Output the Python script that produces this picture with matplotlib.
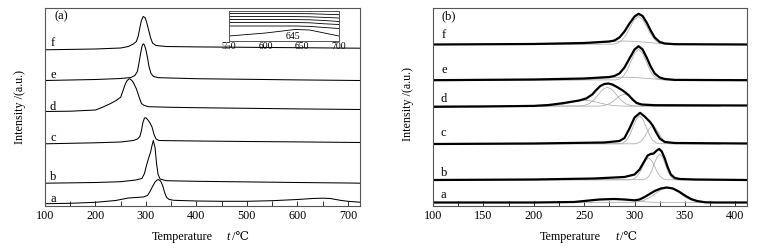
import matplotlib
matplotlib.use("Agg")
import matplotlib.pyplot as plt
from matplotlib.ticker import MultipleLocator

plt.rcParams['font.family'] = ['Liberation Serif', 'DejaVu Serif']

# ---------------- Panel (a) data: temperature (C) and stacked intensity ----------------
a_T = [100, 150, 200, 240, 255, 265, 280, 295, 303, 308, 313, 318, 322, 325, 329, 333, 337, 341, 346, 355,
       400, 450, 500, 550, 600, 630, 650, 665, 685, 700, 724]
a_I = [1.8, 2.2, 3.2, 5.0, 6.5, 7.5, 8.0, 8.5, 10, 14, 19, 23.5, 25.5, 25.8, 24.5, 20, 13, 8, 6, 5.2,
       4.5, 4.2, 4.2, 4.8, 6.0, 7.0, 7.3, 7.0, 5.2, 4.2, 3.3]
b_T = [100, 200, 250, 280, 292, 297, 301, 305, 309, 312, 314.5, 318, 321, 324, 328, 340, 400, 500, 600, 700, 724]
b_I = [22.3, 23, 23.8, 25.5, 27, 32, 40, 47, 53, 60, 65, 58, 42, 31, 26.5, 24.8, 24.2, 23.6, 23, 22.5, 22.3]
c_T = [100, 200, 250, 275, 283, 288, 291, 294, 297, 300, 304, 308, 312, 316, 320, 326, 350, 400, 500, 600, 724]
c_I = [61.7, 62.7, 63.5, 65, 66.5, 69, 75, 83, 87.5, 87.7, 85.5, 82.5, 78.5, 71, 66.5, 65, 64.8, 64.5, 64, 63.6, 63]
d_T = [100, 150, 200, 215, 230, 241, 250, 258, 262, 266, 268, 272, 275, 281, 286, 291, 296, 305, 350, 400, 500, 600, 724]
d_I = [94, 94.3, 95.5, 98.5, 102, 105, 108.3, 120, 124.5, 126.5, 126.7, 125, 123, 116.7, 109, 102, 100.2, 98.8, 98.2, 97.8, 97.2, 96.6, 96]
e_T = [100, 200, 250, 270, 278, 283, 286, 289, 292, 294.5, 297, 300, 303, 306, 310, 315, 325, 400, 500, 600, 724]
e_I = [125, 126, 127, 128, 130, 134, 142, 151, 159, 161.7, 160.5, 155.5, 148, 139, 132, 129, 127.8, 126.8, 126.2, 125.6, 125]
f_T = [100, 200, 250, 265, 275, 281, 285, 288, 291, 294.5, 298, 301, 305, 309, 313, 320, 340, 400, 500, 600, 724]
f_I = [155.7, 156.5, 157.5, 159, 161.5, 164, 170, 178, 185, 189, 188, 184, 176, 168, 162.5, 160, 159, 158.6, 158.2, 157.8, 157.3]

left_T = [a_T, b_T, c_T, d_T, e_T, f_T]
left_I = [a_I, b_I, c_I, d_I, e_I, f_I]
curve_labels = ['a', 'b', 'c', 'd', 'e', 'f']
left_label_y = [6, 28.3, 67.7, 99, 131, 162.3]

# inset (550-700 C, zoomed)
ins_T = [550, 600, 640, 660, 680, 700]
ins_a = [5, 8, 11.5, 11, 8, 5]
ins_b = [15, 15, 15, 14.6, 13.5, 12.5]
ins_c = [18.5, 18.5, 18.5, 18.2, 17.2, 16.5]
ins_d = [21.5, 21.5, 21.4, 21.2, 20.5, 19.5]
ins_e = [24.5, 24.5, 24.4, 24.2, 23.6, 23]
ins_f = [27.5, 27.5, 27.4, 27.3, 26.8, 26.3]

# ---------------- Panel (b) data: measured curves ----------------
ra_T = [100, 200, 240, 250, 265, 280, 290, 300, 305, 310, 315, 320, 326, 332, 338, 344, 350, 356, 362, 370, 380, 411]
ra_I = [3, 3, 3.5, 4.5, 6, 6.5, 6, 5.2, 6, 8.5, 11.5, 14.5, 17, 18, 17, 14, 10, 6.5, 4.5, 3.2, 3, 3]
rb_T = [100, 200, 260, 290, 300, 305, 309, 313, 316, 319, 322, 324.5, 327, 330, 333, 336, 340, 345, 360, 411]
rb_I = [25.5, 26, 27, 28.5, 31, 36, 43, 50, 51.5, 52, 55, 56.5, 54, 47, 38, 31, 27.5, 26.5, 26, 25.5]
rc_T = [100, 200, 270, 285, 290, 295, 300, 305.5, 310, 315, 318, 321, 325, 330, 340, 411]
rc_I = [61.5, 62, 63, 64.5, 67.5, 77, 88, 92.7, 89, 84, 80, 74, 67, 63.5, 62.5, 62]
rd_T = [100, 150, 200, 215, 230, 245, 252, 258, 262, 266, 270, 274, 278, 284, 289, 294, 298, 302, 307, 320, 411]
rd_I = [98.7, 99, 99.6, 100.5, 102.5, 105, 107, 111, 115.5, 119.5, 121.5, 122, 121, 117.7, 114.5, 110.5, 106, 102.5, 101, 100.3, 100]
re_T = [100, 200, 250, 275, 280, 285, 290, 295, 300, 304, 308, 312, 316, 320, 325, 330, 340, 411]
re_I = [125.3, 126, 127, 128.5, 129.5, 132, 138, 147, 156, 159.3, 156, 148, 139, 132, 128, 126.5, 125.6, 125.3]
rf_T = [100, 200, 250, 275, 280, 285, 290, 295, 300, 304, 308, 312, 316, 320, 325, 330, 340, 411]
rf_I = [161, 161.5, 162.5, 164, 165, 168, 174, 182, 189, 191.7, 189.5, 183, 175, 168, 163.5, 162, 161.3, 161]

right_T = [ra_T, rb_T, rc_T, rd_T, re_T, rf_T]
right_I = [ra_I, rb_I, rc_I, rd_I, re_I, rf_I]
right_label_y = [11, 32.7, 72.7, 106, 135.3, 171]

# fitted (deconvolution) components
ca1_T = [100, 224, 233, 242, 251, 260, 269, 278, 287, 296, 305, 314, 323, 332, 385]
ca1_I = [3, 3.04, 3.15, 3.47, 4.14, 5.12, 6.09, 6.5, 6.09, 5.12, 4.14, 3.47, 3.15, 3.04, 3]
ca2_T = [100, 297, 303, 309, 315, 321, 327, 333, 339, 345, 351, 357, 363, 369, 385]
ca2_I = [3, 3.17, 3.66, 5.03, 7.88, 12.1, 16.2, 18, 16.2, 12.1, 7.88, 5.03, 3.66, 3.17, 3]
cb1_T = [100, 296, 299, 302, 305, 308, 311, 314, 317, 320, 323, 326, 329, 332, 385]
cb1_I = [25.5, 25.74, 26.47, 28.47, 32.65, 38.85, 44.9, 47.5, 44.9, 38.85, 32.65, 28.47, 26.47, 25.74, 25.5]
cb2_T = [100, 308.5, 311.25, 314, 316.75, 319.5, 322.25, 325, 327.75, 330.5, 333.25, 336, 338.75, 341.5, 385]
cb2_I = [25.5, 25.79, 26.64, 29.01, 33.95, 41.28, 48.43, 51.5, 48.43, 41.28, 33.95, 29.01, 26.64, 25.79, 25.5]
cc1_T = [100, 285.5, 288.75, 292, 295.25, 298.5, 301.75, 305, 308.25, 311.5, 314.75, 318, 321.25, 324.5, 385]
cc1_I = [61.5, 61.81, 62.73, 65.28, 70.6, 78.5, 86.2, 89.5, 86.2, 78.5, 70.6, 65.28, 62.73, 61.81, 61.5]
cc2_T = [100, 300, 303, 306, 309, 312, 315, 318, 321, 324, 327, 330, 333, 336, 385]
cc2_I = [61.5, 61.7, 62.29, 63.93, 67.35, 72.43, 77.38, 79.5, 77.38, 72.43, 67.35, 63.93, 62.29, 61.7, 61.5]
cd1_T = [100, 208, 215, 222, 229, 236, 243, 250, 257, 264, 271, 278, 285, 292, 385]
cd1_I = [99.3, 99.37, 99.56, 100.11, 101.25, 102.94, 104.59, 105.3, 104.59, 102.94, 101.25, 100.11, 99.56, 99.37, 99.3]
cd2_T = [100, 246, 250.5, 255, 259.5, 264, 268.5, 273, 277.5, 282, 286.5, 291, 295.5, 300, 385]
cd2_I = [99.3, 99.51, 100.14, 101.87, 105.48, 110.83, 116.06, 118.3, 116.06, 110.83, 105.48, 101.87, 100.14, 99.51, 99.3]
cd3_T = [100, 264.5, 268.75, 273, 277.25, 281.5, 285.75, 290, 294.25, 298.5, 302.75, 307, 311.25, 315.5, 385]
cd3_I = [99.3, 99.43, 99.83, 100.92, 103.2, 106.58, 109.88, 111.3, 109.88, 106.58, 103.2, 100.92, 99.83, 99.43, 99.3]
ce1_T = [100, 281.5, 285.25, 289, 292.75, 296.5, 300.25, 304, 307.75, 311.5, 315.25, 319, 322.75, 326.5, 385]
ce1_I = [125.3, 125.64, 126.66, 129.49, 135.38, 144.12, 152.64, 156.3, 152.64, 144.12, 135.38, 129.49, 126.66, 125.64, 125.3]
ce2_T = [100, 224, 235, 246, 257, 268, 279, 290, 301, 312, 323, 334, 345, 356, 385]
ce2_I = [125.3, 125.33, 125.43, 125.71, 126.28, 127.12, 127.95, 128.3, 127.95, 127.12, 126.28, 125.71, 125.43, 125.33, 125.3]
cf1_T = [100, 278.5, 282.75, 287, 291.25, 295.5, 299.75, 304, 308.25, 312.5, 316.75, 321, 325.25, 329.5, 385]
cf1_I = [161, 161.31, 162.23, 164.78, 170.1, 178, 185.7, 189, 185.7, 178, 170.1, 164.78, 162.23, 161.31, 161]
cf2_T = [100, 224, 235, 246, 257, 268, 279, 290, 301, 312, 323, 334, 345, 356, 385]
cf2_I = [161, 161.04, 161.15, 161.47, 162.14, 163.12, 164.09, 164.5, 164.09, 163.12, 162.14, 161.47, 161.15, 161.04, 161]

comp_T = [ca1_T, ca2_T, cb1_T, cb2_T, cc1_T, cc2_T, cd1_T, cd2_T, cd3_T, ce1_T, ce2_T, cf1_T, cf2_T]
comp_I = [ca1_I, ca2_I, cb1_I, cb2_I, cc1_I, cc2_I, cd1_I, cd2_I, cd3_I, ce1_I, ce2_I, cf1_I, cf2_I]

xlabel_main = 'Temperature'
xlabel_sym = 't'
xlabel_unit = '/\u2103'
ylabel = 'Intensity /(a.u.)'

# ---------------- Figure ----------------
W, H = 775, 248
fig = plt.figure(figsize=(W / 100, H / 100), dpi=100)
spine_col = '#555555'
FS = 8.7


def style(ax, major, minor):
    for s in ax.spines.values():
        s.set_color(spine_col)
        s.set_linewidth(0.8)
    ax.set_yticks([])
    ax.xaxis.set_major_locator(MultipleLocator(major))
    ax.xaxis.set_minor_locator(MultipleLocator(minor))
    ax.tick_params(axis='x', which='both', direction='in', top=False, colors='#333333',
                   labelsize=FS, pad=3, width=0.7)
    ax.tick_params(axis='x', which='major', length=3.5)
    ax.tick_params(axis='x', which='minor', length=3.5)
    for lab in ax.get_xticklabels():
        lab.set_color('black')


bot = 1 - 205.5 / H
top = 1 - 8 / H
axL = fig.add_axes([45 / W, bot, (360 - 45) / W, top - bot])
axR = fig.add_axes([433 / W, bot, (747 - 433) / W, top - bot])

# panel (a)
for T, I in zip(left_T, left_I):
    axL.plot(T, I, color='black', lw=0.75)
for lab, y in zip(curve_labels, left_label_y):
    axL.text(116, y, lab, ha='center', va='center', fontsize=9)
axL.text(133, 189, '(a)', ha='center', va='center', fontsize=9)
axL.set_xlim(100, 724)
axL.set_ylim(0, 197.5)
style(axL, 100, 50)

# inset
axI = fig.add_axes([229 / W, 1 - 41 / H, 110 / W, 30 / H])
for I in [ins_a, ins_b, ins_c, ins_d, ins_e, ins_f]:
    axI.plot(ins_T, I, color='black', lw=0.6)
axI.text(637, 4.5, '645', ha='center', va='center', fontsize=7)
axI.set_xlim(550, 700)
axI.set_ylim(0, 30)
axI.set_yticks([])
axI.set_xticks([550, 600, 650, 700])
axI.tick_params(axis='x', direction='in', length=0, labelsize=7, pad=1)
for s in axI.spines.values():
    s.set_color(spine_col)
    s.set_linewidth(0.7)

# panel (b)
for T, I in zip(comp_T, comp_I):
    axR.plot(T, I, color='#b0b0b0', lw=0.6)
for T, I in zip(right_T, right_I):
    axR.plot(T, I, color='black', lw=1.6)
for lab, y in zip(curve_labels, right_label_y):
    axR.text(110.7, y, lab, ha='center', va='center', fontsize=9)
axR.text(115.7, 189.3, '(b)', ha='center', va='center', fontsize=9)
axR.set_xlim(100, 411.6)
axR.set_ylim(0, 197.5)
style(axR, 50, 25)

# axis titles
ly = 1 - 236.7 / H
for x0 in (151.7, 540.0):
    fig.text(x0 / W, ly, xlabel_main, ha='left', va='center', fontsize=FS)
    fig.text((x0 + 75) / W, ly, xlabel_sym, ha='left', va='center', fontsize=FS, style='italic')
    fig.text((x0 + 80.5) / W, ly, xlabel_unit, ha='left', va='center', fontsize=FS)
fig.text(20 / W, 1 - 107 / H, ylabel, rotation=90, ha='center', va='center', fontsize=FS)
fig.text(408 / W, 1 - 104 / H, ylabel, rotation=90, ha='center', va='center', fontsize=FS)

fig.savefig('out.png', dpi=100)
